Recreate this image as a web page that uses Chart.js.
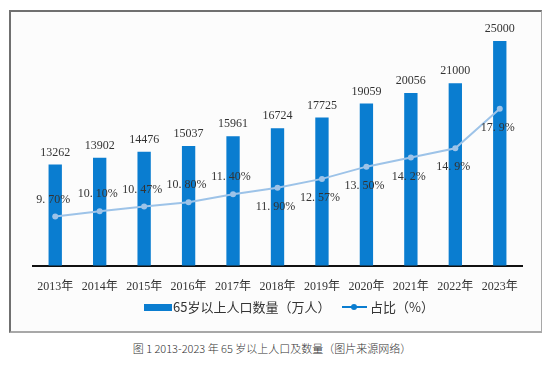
<!DOCTYPE html>
<html>
<head>
<meta charset="utf-8">
<script src="https://cdn.jsdelivr.net/npm/chart.js@4"></script>
<style>
  html, body { margin: 0; padding: 0; background: #fff; }
  body { width: 554px; height: 371px; position: relative; overflow: hidden; }
  #frame {
    position: absolute; left: 9px; top: 10px; width: 530px; height: 319px;
    border-left: 2px solid #707070; border-top: 2px solid #707070;
    border-right: 1px solid #a8a8a8; border-bottom: 2px solid #a8a8a8;
    background: #fcfcfc;
  }
  #wrap { position: absolute; left: 0; top: 0; width: 554px; height: 300px; }
  .legend {
    position: absolute; top: 298px; left: 0; width: 554px; height: 18px;
    font-family: "Noto Sans CJK SC", "Noto Sans", sans-serif; font-size: 13px; color: #333;
  }
  .legend span { position: absolute; top: 0; line-height: 18px; white-space: nowrap; }
  .sw-bar { position: absolute; left: 144px; top: 6px; width: 28px; height: 7px; background: #0a7dd0; }
  .sw-line { position: absolute; left: 342px; top: 8px; width: 25px; height: 2px; background: #0a7dd0; }
  .sw-dot { position: absolute; left: 351px; top: 6px; width: 6px; height: 6px; border-radius: 50%; background: #0a7dd0; }
  #caption {
    position: absolute; top: 340px; left: 0; width: 544px; text-align: center;
    font-family: "Noto Sans CJK SC", sans-serif; font-size: 11px; font-weight: 300; color: #333;
  }
</style>
</head>
<body>
<div id="frame"></div>
<div id="wrap"><canvas id="chart" width="554" height="300"></canvas></div>
<div class="legend">
  <div class="sw-bar"></div><span style="left:173px">65岁以上人口数量（万人）</span>
  <div class="sw-line"></div><div class="sw-dot"></div><span style="left:370px">占比（%）</span>
</div>
<div id="caption">图 1 2013-2023 年 65 岁以上人口及数量（图片来源网络）</div>
<script>
const years = ['2013年', '2014年', '2015年', '2016年', '2017年', '2018年', '2019年', '2020年', '2021年', '2022年', '2023年'];
const population = [13262, 13902, 14476, 15037, 15961, 16724, 17725, 19059, 20056, 21000, 25000];
const share = [9.70, 10.10, 10.47, 10.80, 11.40, 11.90, 12.57, 13.50, 14.2, 14.9, 17.9];
const shareText = ['9. 70%', '10. 10%', '10. 47%', '10. 80%', '11. 40%', '11. 90%', '12. 57%', '13. 50%', '14. 2%', '14. 9%', '17. 9%'];
const shareSide = ['up', 'up', 'up', 'up', 'up', 'down', 'down', 'down', 'down', 'down', 'down'];

const serif = "'Liberation Serif', 'Noto Sans CJK SC', serif";

// labels above bars and next to the line points
const labelPlugin = {
  id: 'labels',
  afterDatasetsDraw(chart) {
    const ctx = chart.ctx;
    ctx.save();
    ctx.font = '12px ' + serif;
    ctx.fillStyle = '#333';
    ctx.textAlign = 'center';
    ctx.textBaseline = 'middle';
    chart.getDatasetMeta(1).data.forEach((bar, i) => {
      ctx.fillText(population[i], bar.x, bar.y - 12);
    });
    chart.getDatasetMeta(0).data.forEach((pt, i) => {
      const dy = shareSide[i] == 'up' ? -17 : 19;
      ctx.fillText(shareText[i], pt.x - 2, pt.y + dy);
    });
    ctx.restore();
  }
};

new Chart(document.getElementById('chart'), {
  data: {
    labels: years,
    datasets: [
      {
        type: 'line',
        label: '占比（%）',
        data: share,
        yAxisID: 'y1',
        borderColor: '#9dc3e8',
        backgroundColor: '#9dc3e8',
        borderWidth: 2,
        pointRadius: 3,
        pointBackgroundColor: '#9dc3e8',
        pointBorderWidth: 0,
        order: 0
      },
      {
        type: 'bar',
        label: '65岁以上人口数量（万人）',
        data: population,
        yAxisID: 'y',
        backgroundColor: '#0a7dd0',
        categoryPercentage: 1,
        barPercentage: 0.3,
        order: 1
      }
    ]
  },
  options: {
    responsive: false,
    animation: false,
    layout: { padding: { left: 33, right: 32, top: 30, bottom: 0 } },
    plugins: { legend: { display: false }, tooltip: { enabled: false } },
    scales: {
      x: {
        grid: { display: false },
        border: { display: true, color: '#111', width: 2 },
        ticks: { color: '#333', font: { size: 12, family: serif }, padding: 6, maxRotation: 0, autoSkip: false }
      },
      y: { display: false, min: 3660, max: 26050 },
      y1: { display: false, min: 5.97, max: 23.9 }
    }
  },
  plugins: [labelPlugin]
});
</script>
</body>
</html>
